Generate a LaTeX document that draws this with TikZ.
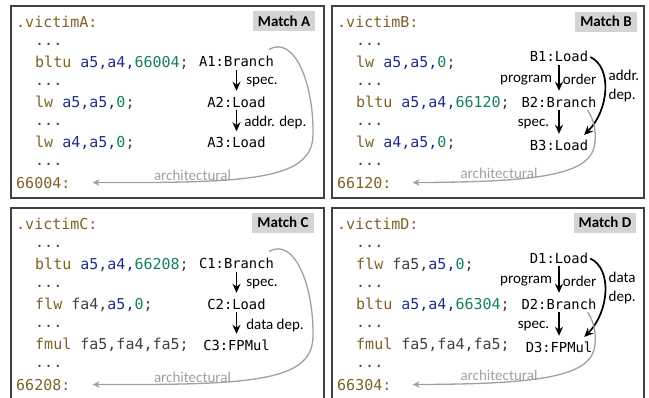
\documentclass[tikz,border=0pt]{standalone}
\usepackage{fontspec}
\setmainfont{Carlito}
\newfontfamily\codefont{DejaVu Sans Mono}
\usetikzlibrary{arrows.meta}

\definecolor{opcol}{HTML}{7F6025}
\definecolor{regcol}{HTML}{1F2E8C}
\definecolor{immcol}{HTML}{168058}
\definecolor{txtcol}{HTML}{404040}
\definecolor{archcol}{HTML}{A0A0A0}

% assembly colouring
\newcommand\opc[1]{\textcolor{opcol}{#1}}
\newcommand\rgs[1]{\textcolor{regcol}{#1}}
\newcommand\imv[1]{\textcolor{immcol}{#1}}

\begin{document}
\begin{tikzpicture}[x=1pt,y=-1pt,>=Stealth,
 panel/.style={draw=black!75,line width=1.1pt},
 tag/.style={fill=black!17,font=\bfseries\fontsize{15}{18}\selectfont,
 inner sep=0pt,minimum width=62pt,minimum height=20pt},
 code/.style={anchor=base west,inner sep=0pt,text=txtcol,
 font=\codefont\fontsize{15}{18}\selectfont},
 instr/.style={anchor=base,inner sep=2pt,text height=10pt,text depth=1pt,
 font=\codefont\fontsize{13.8}{16}\selectfont},
 lbl/.style={inner sep=1pt,font=\fontsize{15}{19}\selectfont},
 dep/.style={-{Stealth[length=9pt,width=8pt]},line width=1.7pt,shorten >=4pt},
 arch/.style={-{Stealth[length=7pt,width=6.5pt]},draw=archcol,line width=1.3pt},
 archlbl/.style={text=archcol,inner sep=0pt,font=\fontsize{15}{18}\selectfont}]
\useasboundingbox (0,0) rectangle (649,397);
\clip (0,0) rectangle (649,397);

% victim A
\draw[panel] (11,6) rectangle (324,198);
\node[tag] (tagA) at (284,21) {Match A};
\node[code] (la0) at (16,27.5) {\opc{.victimA:}};
\node[code] (la1) at (35,45) {...};
\node[code] (la2) at (35,67) {\opc{bltu} \rgs{a5,a4,}\imv{66004};};
\node[code] (la3) at (35,85) {...};
\node[code] (la4) at (35,107) {\opc{lw} \rgs{a5,a5,}\imv{0};};
\node[code] (la5) at (35,125) {...};
\node[code] (la6) at (35,147.5) {\opc{lw} \rgs{a4,a5,}\imv{0};};
\node[code] (la7) at (35,165.5) {...};
\node[code] (la8) at (16,188) {\opc{66004:}};
\node[instr] (A1) at (236.5,66.5) {A1:Branch};
\node[instr] (A2) at (236.5,107) {A2:Load};
\node[instr] (A3) at (236.5,147.5) {A3:Load};
\draw[dep] (A1) -- node[lbl,right=8pt]{spec.} (A2);
\draw[dep] (A2) -- node[lbl,right=6pt]{addr. dep.} (A3);
\draw[arch] ([shift={(-7,-5)}]A1.north east) .. controls (295,35) and (314,85) .. (313,135)
 .. controls (312,180) and (250,183) .. ([xshift=22pt]la8.east);
\node[archlbl] (archA) at (192.5,175) {architectural};

% victim B
\begin{scope}[shift={(321,0)}]
\draw[panel] (11,6) rectangle (323,198);
\node[tag] (tagB) at (285,21.5) {Match B};
\node[code] (lb0) at (16,27.5) {\opc{.victimB:}};
\node[code] (lb1) at (35,45) {...};
\node[code] (lb2) at (35,67) {\opc{lw} \rgs{a5,a5,}\imv{0};};
\node[code] (lb3) at (35,85) {...};
\node[code] (lb4) at (35,107) {\opc{bltu} \rgs{a5,a4,}\imv{66120};};
\node[code] (lb5) at (35,125) {...};
\node[code] (lb6) at (35,147.5) {\opc{lw} \rgs{a4,a5,}\imv{0};};
\node[code] (lb7) at (35,165.5) {...};
\node[code] (lb8) at (16,188) {\opc{66120:}};
\node[instr] (B1) at (238,61.5) {B1:Load};
\node[instr] (B2) at (238,107) {B2:Branch};
\node[instr] (B3) at (238,150) {B3:Load};
\draw[dep] (B1) -- node[lbl,left=5pt]{program} node[lbl,right=2pt]{order} (B2);
\draw[dep] (B2) -- node[lbl,left=8pt]{spec.} (B3);
\draw[dep] (B1.east) .. controls +(22,10) and +(28,-28) .. ([xshift=-9pt]B3.north east)
 node[lbl,pos=0.45,right=2pt,align=left]{addr.\\dep.};
\draw[arch] ([xshift=-11pt]B2.south east) .. controls (273,120) and (275,130) .. (274,142)
 .. controls (272,175) and (219,182) .. ([xshift=21pt]lb8.east);
\node[archlbl] (archB) at (178,173) {architectural};
\end{scope}

% victim C
\begin{scope}[shift={(0,202)}]
\draw[panel] (11,6) rectangle (324,198);
\node[tag] (tagC) at (283,20.5) {Match C};
\node[code] (lc0) at (16,27.5) {\opc{.victimC:}};
\node[code] (lc1) at (35,45) {...};
\node[code] (lc2) at (35,67) {\opc{bltu} \rgs{a5,a4,}\imv{66208};};
\node[code] (lc3) at (35,85) {...};
\node[code] (lc4) at (35,107) {\opc{flw} fa4,\rgs{a5,}\imv{0};};
\node[code] (lc5) at (35,125) {...};
\node[code] (lc6) at (35,147.5) {\opc{fmul} fa5,fa4,fa5;};
\node[code] (lc7) at (35,165.5) {...};
\node[code] (lc8) at (16,188) {\opc{66208:}};
\node[instr] (C1) at (236.5,66.5) {C1:Branch};
\node[instr] (C2) at (236.5,107) {C2:Load};
\node[instr] (C3) at (236.5,148) {C3:FPMul};
\draw[dep] (C1) -- node[lbl,right=8pt]{spec.} (C2);
\draw[dep] (C2) -- node[lbl,right=8pt]{data dep.} (C3);
\draw[arch] ([shift={(-7,-5)}]C1.north east) .. controls (295,35) and (314,85) .. (313,135)
 .. controls (312,180) and (250,183) .. ([xshift=22pt]lc8.east);
\node[archlbl] (archC) at (192.5,175) {architectural};
\end{scope}

% victim D
\begin{scope}[shift={(321,202)}]
\draw[panel] (11,6) rectangle (323,198);
\node[tag] (tagD) at (284,20.5) {Match D};
\node[code] (ld0) at (16,27.5) {\opc{.victimD:}};
\node[code] (ld1) at (35,45) {...};
\node[code] (ld2) at (35,67) {\opc{flw} fa5,\rgs{a5,}\imv{0};};
\node[code] (ld3) at (35,85) {...};
\node[code] (ld4) at (35,107) {\opc{bltu} \rgs{a5,a4,}\imv{66304};};
\node[code] (ld5) at (35,125) {...};
\node[code] (ld6) at (35,147.5) {\opc{fmul} fa5,fa4,fa5;};
\node[code] (ld7) at (35,165.5) {...};
\node[code] (ld8) at (16,188) {\opc{66304:}};
\node[instr] (D1) at (238,61) {D1:Load};
\node[instr] (D2) at (238,107) {D2:Branch};
\node[instr] (D3) at (238,150) {D3:FPMul};
\draw[dep] (D1) -- node[lbl,left=5pt]{program} node[lbl,right=2pt]{order} (D2);
\draw[dep] (D2) -- node[lbl,left=8pt]{spec.} (D3);
\draw[dep] (D1.east) .. controls +(22,10) and +(28,-28) .. ([xshift=-13pt]D3.north east)
 node[lbl,pos=0.45,right=2pt,align=left]{data\\dep.};
\draw[arch] ([xshift=-11pt]D2.south east) .. controls (273,120) and (275,130) .. (274,142)
 .. controls (272,175) and (219,182) .. ([xshift=21pt]ld8.east);
\node[archlbl] (archD) at (178,173) {architectural};
\end{scope}
\end{tikzpicture}
\end{document}
